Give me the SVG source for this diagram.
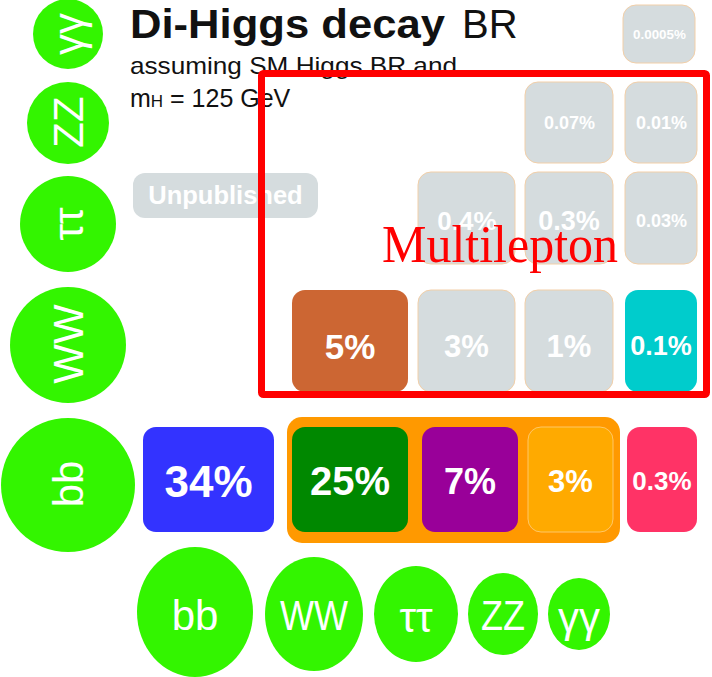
<svg xmlns="http://www.w3.org/2000/svg" width="712" height="677" viewBox="0 0 712 677">
  <style>
    .ball { fill: #33f500; }
    .ball-label { font-family: "Liberation Sans", Arial, sans-serif; font-size: 42px; fill: #ffffff; text-anchor: middle; dominant-baseline: central; }
    .cell-label { font-family: "Liberation Sans", Arial, sans-serif; font-weight: bold; fill: #ffffff; text-anchor: middle; dominant-baseline: central; }
    .grey { fill: #d5dcde; stroke: #f2cfa8; stroke-width: 1; }
    .title { font-family: "Liberation Sans", Arial, sans-serif; fill: #111111; }
  </style>

  <!-- heading -->
  <g id="heading">
    <text class="title" x="130" y="38" font-size="40" font-weight="bold" textLength="315" lengthAdjust="spacingAndGlyphs">Di-Higgs decay</text>
    <text class="title" x="462" y="38" font-size="40">BR</text>
    <text class="title" x="130" y="74" font-size="24" textLength="327" lengthAdjust="spacingAndGlyphs">assuming SM Higgs BR and</text>
    <text class="title" x="130" y="107" font-size="25">m<tspan font-size="17">H</tspan> = 125 GeV</text>
  </g>

  <!-- legend pill -->
  <g id="unpublished">
    <rect x="133" y="173" width="185" height="45" rx="12" fill="#d5dcde"/>
    <text class="cell-label" x="225.5" y="195" font-size="25.5">Unpublished</text>
  </g>

  <!-- left column: first Higgs decay -->
  <g id="row-gg"><circle class="ball" cx="68" cy="34" r="35"/><text class="ball-label" transform="translate(68 34) rotate(-90)" font-size="40">γγ</text></g>
  <g id="row-zz"><circle class="ball" cx="68" cy="123" r="41"/><text class="ball-label" transform="translate(68 122) rotate(-90)">ZZ</text></g>
  <g id="row-tt"><circle class="ball" cx="68" cy="224" r="48"/><text class="ball-label" transform="translate(68 224) rotate(-90)">ττ</text></g>
  <g id="row-ww"><circle class="ball" cx="68" cy="345" r="58"/><text class="ball-label" transform="translate(68 344) rotate(-90)" font-size="43">WW</text></g>
  <g id="row-bb"><circle class="ball" cx="68" cy="485" r="67"/><text class="ball-label" transform="translate(68 484) rotate(-90)" font-size="43">bb</text></g>

  <!-- bottom row: second Higgs decay -->
  <g id="col-bb"><ellipse class="ball" cx="195" cy="612" rx="58" ry="65"/><text class="ball-label" x="195" y="615">bb</text></g>
  <g id="col-ww"><ellipse class="ball" cx="314" cy="614" rx="49" ry="57"/><text class="ball-label" x="314" y="615" textLength="68" lengthAdjust="spacingAndGlyphs">WW</text></g>
  <g id="col-tt"><ellipse class="ball" cx="416" cy="614" rx="42" ry="48"/><text class="ball-label" x="416" y="617">ττ</text></g>
  <g id="col-zz"><ellipse class="ball" cx="503" cy="614" rx="35" ry="41"/><text class="ball-label" x="503" y="615" textLength="44" lengthAdjust="spacingAndGlyphs">ZZ</text></g>
  <g id="col-gg"><ellipse class="ball" cx="579" cy="614" rx="31" ry="36"/><text class="ball-label" x="579" y="617" font-size="40">γγ</text></g>

  <!-- bb row -->
  <g id="cell-bb-bb"><rect x="143" y="427" width="131" height="105" rx="13" fill="#3333ff"/><text class="cell-label" x="208.5" y="481" font-size="44">34%</text></g>
  <g id="group-bb-other"><rect x="287" y="417" width="333" height="126" rx="15" fill="#ff9900"/></g>
  <g id="cell-bb-ww"><rect x="292" y="427" width="116" height="105" rx="13" fill="#008800"/><text class="cell-label" x="350" y="481" font-size="40">25%</text></g>
  <g id="cell-bb-tt"><rect x="422" y="427" width="96" height="105" rx="13" fill="#990099"/><text class="cell-label" x="470" y="481" font-size="36">7%</text></g>
  <g id="cell-bb-zz"><rect x="528" y="427" width="85" height="105" rx="13" fill="#ffaa00" stroke="#ffc766" stroke-width="1"/><text class="cell-label" x="570.5" y="481" font-size="31">3%</text></g>
  <g id="cell-bb-gg"><rect x="627" y="427" width="70" height="105" rx="13" fill="#ff3366"/><text class="cell-label" x="662" y="481" font-size="26">0.3%</text></g>

  <!-- WW row -->
  <g id="cell-ww-ww"><rect x="292" y="290" width="116" height="102" rx="13" fill="#cc6633"/><text class="cell-label" x="350" y="346" font-size="35">5%</text></g>
  <g id="cell-ww-tt"><rect class="grey" x="418" y="290" width="97" height="102" rx="13"/><text class="cell-label" x="466.5" y="346" font-size="31">3%</text></g>
  <g id="cell-ww-zz"><rect class="grey" x="525" y="290" width="88" height="102" rx="13"/><text class="cell-label" x="569" y="346" font-size="31">1%</text></g>
  <g id="cell-ww-gg"><rect x="625" y="290" width="72" height="102" rx="13" fill="#00cccc"/><text class="cell-label" x="661" y="346" font-size="27">0.1%</text></g>

  <!-- tautau row -->
  <g id="cell-tt-tt"><rect class="grey" x="418" y="172" width="97" height="92" rx="13"/><text class="cell-label" x="467" y="221" font-size="26">0.4%</text></g>
  <g id="cell-tt-zz"><rect class="grey" x="525" y="172" width="88" height="92" rx="13"/><text class="cell-label" x="569" y="221" font-size="27">0.3%</text></g>
  <g id="cell-tt-gg"><rect class="grey" x="625" y="172" width="72" height="92" rx="13"/><text class="cell-label" x="661.5" y="221" font-size="18">0.03%</text></g>

  <!-- ZZ row -->
  <g id="cell-zz-zz"><rect class="grey" x="525" y="82" width="88" height="81" rx="13"/><text class="cell-label" x="569.5" y="123" font-size="18">0.07%</text></g>
  <g id="cell-zz-gg"><rect class="grey" x="625" y="82" width="72" height="81" rx="13"/><text class="cell-label" x="661.5" y="123" font-size="18">0.01%</text></g>

  <!-- gamma-gamma row -->
  <g id="cell-gg-gg"><rect class="grey" x="623" y="5" width="72" height="58" rx="13"/><text class="cell-label" x="659.5" y="34" font-size="13.4">0.0005%</text></g>

  <!-- multilepton highlight -->
  <g id="multilepton">
    <rect x="261.5" y="73.5" width="445" height="321" rx="2" fill="none" stroke="#ff0000" stroke-width="7"/>
    <text x="382" y="262" font-family="'Liberation Serif', 'Times New Roman', serif" font-size="52" fill="#ff0000" textLength="236" lengthAdjust="spacingAndGlyphs">Multilepton</text>
  </g>
</svg>
